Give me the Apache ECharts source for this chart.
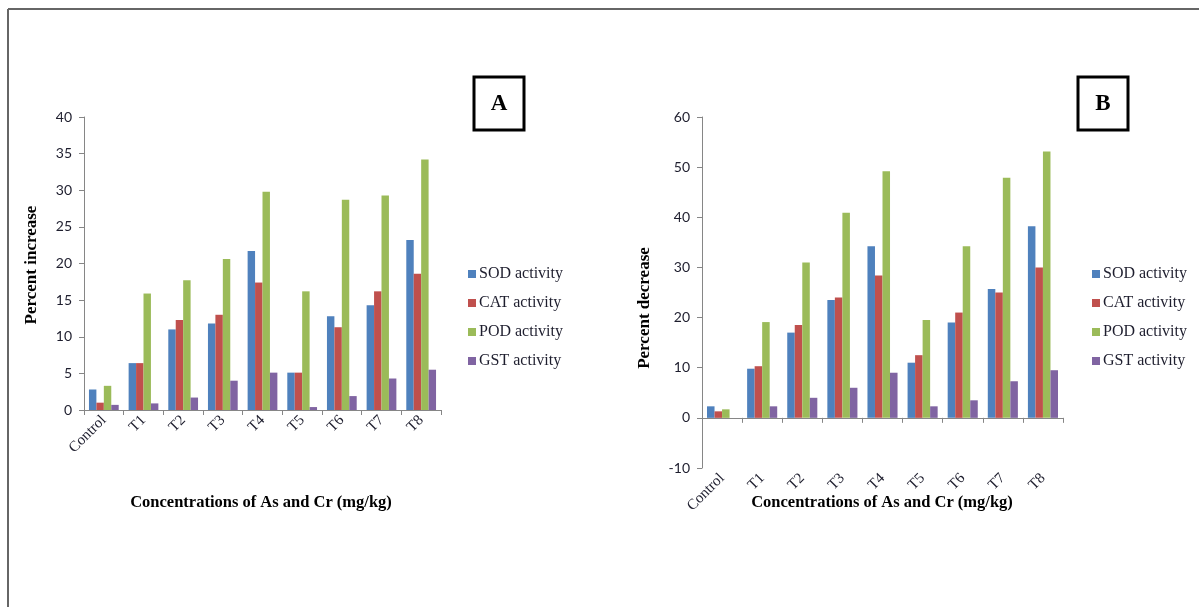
<!DOCTYPE html>
<html>
<head>
<meta charset="utf-8" />
<title>SOD CAT POD GST activity</title>
<script src="https://cdn.jsdelivr.net/npm/echarts@6/dist/echarts.min.js"></script>
<style>
  html, body { margin: 0; padding: 0; background: #fff; }
  #chart { width: 1199px; height: 607px; }
</style>
</head>
<body>
<div id="chart"></div>
<script>
// categories
var groups = ['Control', 'T1', 'T2', 'T3', 'T4', 'T5', 'T6', 'T7', 'T8'];
var seriesNames = ['SOD activity', 'CAT activity', 'POD activity', 'GST activity'];

// panel A - percent increase
var sodA = [2.8, 6.4, 11.0, 11.8, 21.7, 5.1, 12.8, 14.3, 23.2];
var catA = [1.0, 6.4, 12.3, 13.0, 17.4, 5.1, 11.3, 16.2, 18.6];
var podA = [3.3, 15.9, 17.7, 20.6, 29.8, 16.2, 28.7, 29.3, 34.2];
var gstA = [0.7, 0.9, 1.7, 4.0, 5.1, 0.4, 1.9, 4.3, 5.5];

// panel B - percent decrease
var sodB = [2.3, 9.8, 17.0, 23.5, 34.2, 11.0, 19.0, 25.7, 38.2];
var catB = [1.3, 10.3, 18.5, 24.0, 28.4, 12.5, 21.0, 25.0, 30.0];
var podB = [1.7, 19.1, 31.0, 40.9, 49.2, 19.5, 34.2, 47.9, 53.1];
var gstB = [0, 2.3, 4.0, 6.0, 9.0, 2.3, 3.5, 7.3, 9.5];

var colors = ['#4F81BD', '#C0504D', '#9BBB59', '#8064A2'];
var serif = '"Liberation Serif", "DejaVu Serif", serif';
var sans = 'Lato, "Open Sans", sans-serif';

var myChart = echarts.init(document.getElementById('chart'));

function xAx(idx) {
  return {
    type: 'category',
    gridIndex: idx,
    data: groups,
    axisLine: { lineStyle: { color: '#868686', width: 1 } },
    axisTick: { show: true, length: 5, lineStyle: { color: '#868686' } },
    axisLabel: { rotate: 45, color: '#1e1e2e', fontFamily: serif, fontSize: 15, margin: 8 }
  };
}

function yAx(idx, min, max, interval) {
  return {
    type: 'value',
    gridIndex: idx,
    min: min,
    max: max,
    interval: interval,
    splitLine: { show: false },
    axisLine: { show: true, lineStyle: { color: '#868686', width: 1 } },
    axisTick: { show: true, length: 5, lineStyle: { color: '#868686' } },
    axisLabel: { color: '#1e1e2e', fontFamily: sans, fontSize: 14, margin: 12 }
  };
}

function bars(data, i, idx) {
  return {
    name: seriesNames[i],
    type: 'bar',
    xAxisIndex: idx,
    yAxisIndex: idx,
    data: data,
    barGap: '0%',
    barCategoryGap: '25%',
    itemStyle: { color: colors[i] }
  };
}

function legendAt(left) {
  return {
    data: seriesNames,
    orient: 'vertical',
    left: left,
    top: 261,
    icon: 'rect',
    itemWidth: 8,
    itemHeight: 8,
    itemGap: 13,
    selectedMode: false,
    textStyle: { fontFamily: serif, fontSize: 16, color: '#1e1e2e', padding: [0, 0, 0, -2] }
  };
}

function labelBox(x, letter) {
  return [{
    type: 'rect',
    shape: { x: x, y: 77, width: 50, height: 53 },
    style: { fill: '#fff', stroke: '#000', lineWidth: 3 }
  }, {
    type: 'text',
    x: x + 25,
    y: 104,
    style: { text: letter, font: 'bold 23px ' + serif, fill: '#000', align: 'center', verticalAlign: 'middle' }
  }];
}

function title(x, y, txt, rot, size) {
  return {
    type: 'text',
    x: x,
    y: y,
    rotation: rot ? Math.PI / 2 : 0,
    style: { text: txt, font: 'bold ' + size + 'px ' + serif, fill: '#000', align: 'center', verticalAlign: 'middle' }
  };
}

var graphics = [
  { type: 'line', shape: { x1: 8, y1: 9, x2: 1199, y2: 9 }, style: { stroke: '#666', lineWidth: 2 } },
  { type: 'line', shape: { x1: 8, y1: 9, x2: 8, y2: 607 }, style: { stroke: '#666', lineWidth: 2 } },
  title(261, 503, 'Concentrations of As and Cr (mg/kg)', false, 16.5),
  title(882, 503, 'Concentrations of As and Cr (mg/kg)', false, 16.5),
  title(32, 265, 'Percent increase', true, 17),
  title(645, 308, 'Percent decrease', true, 17)
].concat(labelBox(474, 'A')).concat(labelBox(1078, 'B'));

myChart.setOption({
  animation: false,
  grid: [
    { left: 84, top: 117, width: 357, height: 293 },
    { left: 702, top: 117, width: 361, height: 351 }
  ],
  xAxis: [xAx(0), xAx(1)],
  yAxis: [yAx(0, 0, 40, 5), yAx(1, -10, 60, 10)],
  legend: [legendAt(463), legendAt(1087)],
  series: [
    bars(sodA, 0, 0), bars(catA, 1, 0), bars(podA, 2, 0), bars(gstA, 3, 0),
    bars(sodB, 0, 1), bars(catB, 1, 1), bars(podB, 2, 1), bars(gstB, 3, 1)
  ],
  graphic: graphics
});

window.onresize = function() {
  myChart.resize();
};
</script>
</body>
</html>
